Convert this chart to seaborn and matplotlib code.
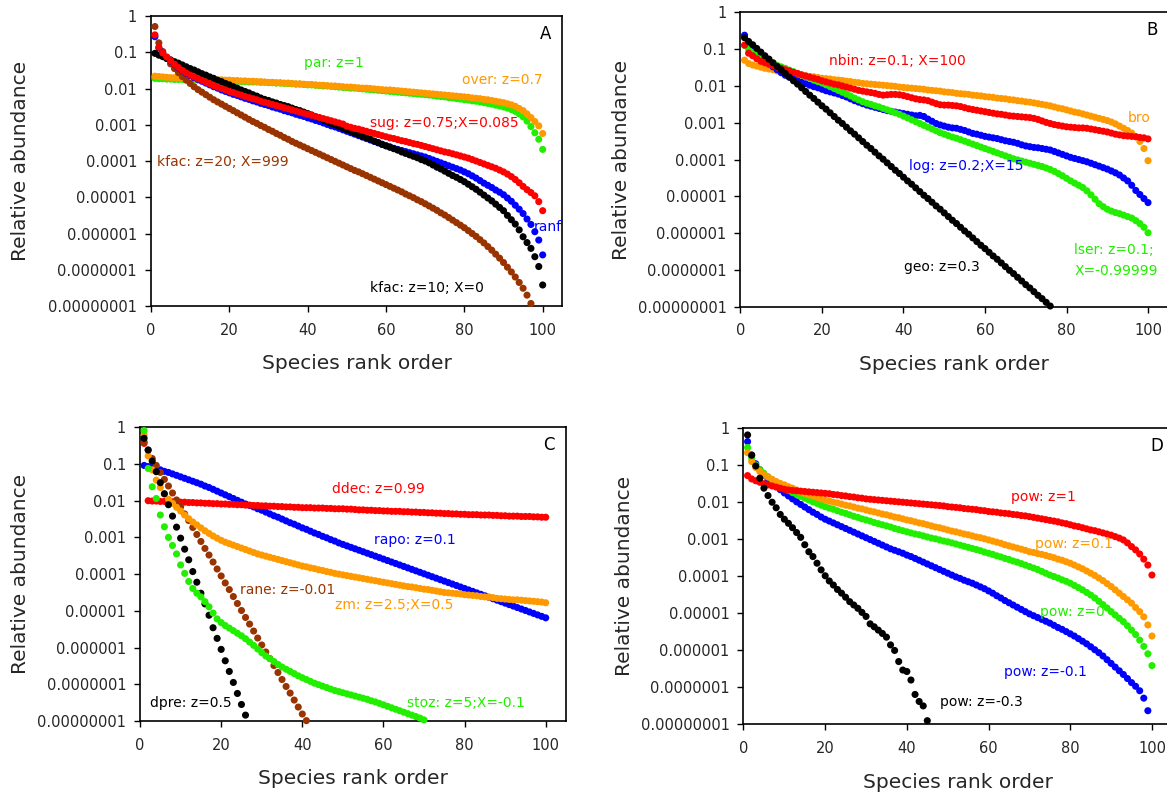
import numpy as np
import pandas as pd
import matplotlib
matplotlib.use("Agg")
import matplotlib.pyplot as plt
import seaborn as sns
from matplotlib.ticker import FixedLocator, FixedFormatter, NullLocator

# ---------------- data: log10(relative abundance) for species rank 1..n ----------------
# Panel A
A_par = [-1.72,-1.73,-1.73,-1.74,-1.74,-1.75,-1.75,-1.75,-1.76,-1.76,
         -1.76,-1.77,-1.77,-1.77,-1.78,-1.78,-1.78,-1.79,-1.79,-1.79,
         -1.80,-1.80,-1.81,-1.81,-1.82,-1.82,-1.82,-1.83,-1.83,-1.84,
         -1.84,-1.85,-1.85,-1.86,-1.86,-1.87,-1.88,-1.88,-1.89,-1.90,
         -1.90,-1.91,-1.92,-1.93,-1.93,-1.94,-1.95,-1.96,-1.97,-1.98,
         -1.99,-1.99,-2.00,-2.01,-2.02,-2.03,-2.04,-2.05,-2.06,-2.07,
         -2.08,-2.09,-2.10,-2.11,-2.12,-2.13,-2.14,-2.15,-2.16,-2.17,
         -2.18,-2.19,-2.21,-2.22,-2.23,-2.25,-2.26,-2.28,-2.29,-2.31,
         -2.32,-2.34,-2.35,-2.37,-2.39,-2.41,-2.43,-2.46,-2.48,-2.51,
         -2.54,-2.58,-2.63,-2.70,-2.78,-2.90,-3.05,-3.22,-3.40,-3.68]
A_over = [-1.66,-1.67,-1.68,-1.69,-1.70,-1.70,-1.71,-1.71,-1.72,-1.72,
          -1.73,-1.73,-1.74,-1.74,-1.75,-1.75,-1.76,-1.76,-1.77,-1.77,
          -1.78,-1.78,-1.79,-1.79,-1.80,-1.80,-1.81,-1.81,-1.82,-1.83,
          -1.83,-1.84,-1.84,-1.85,-1.85,-1.86,-1.87,-1.87,-1.88,-1.89,
          -1.89,-1.90,-1.91,-1.91,-1.92,-1.93,-1.93,-1.94,-1.95,-1.96,
          -1.96,-1.97,-1.98,-1.99,-1.99,-2.00,-2.01,-2.02,-2.03,-2.04,
          -2.04,-2.05,-2.06,-2.07,-2.08,-2.09,-2.10,-2.11,-2.12,-2.13,
          -2.14,-2.15,-2.16,-2.17,-2.18,-2.19,-2.20,-2.21,-2.22,-2.23,
          -2.24,-2.26,-2.27,-2.28,-2.30,-2.31,-2.33,-2.35,-2.37,-2.39,
          -2.42,-2.45,-2.49,-2.55,-2.61,-2.70,-2.80,-2.91,-3.03,-3.24]
A_kfac10 = [-1.03,-1.08,-1.12,-1.17,-1.21,-1.26,-1.30,-1.35,-1.40,-1.45,
            -1.49,-1.54,-1.59,-1.63,-1.68,-1.72,-1.77,-1.81,-1.86,-1.90,
            -1.95,-1.99,-2.04,-2.08,-2.12,-2.17,-2.21,-2.26,-2.30,-2.33,
            -2.37,-2.40,-2.44,-2.47,-2.50,-2.54,-2.58,-2.61,-2.65,-2.69,
            -2.73,-2.78,-2.82,-2.87,-2.91,-2.96,-3.00,-3.05,-3.09,-3.14,
            -3.18,-3.23,-3.27,-3.32,-3.36,-3.40,-3.45,-3.49,-3.54,-3.58,
            -3.62,-3.66,-3.70,-3.75,-3.79,-3.83,-3.87,-3.91,-3.96,-4.00,
            -4.05,-4.11,-4.17,-4.22,-4.28,-4.34,-4.40,-4.45,-4.51,-4.57,
            -4.64,-4.71,-4.78,-4.86,-4.94,-5.02,-5.10,-5.19,-5.28,-5.37,
            -5.50,-5.62,-5.74,-5.90,-6.09,-6.25,-6.41,-6.64,-6.91,-7.42]
A_ranf = [-0.57,-0.88,-1.03,-1.14,-1.24,-1.34,-1.43,-1.51,-1.58,-1.64,
          -1.70,-1.75,-1.80,-1.85,-1.90,-1.95,-1.99,-2.04,-2.08,-2.12,
          -2.16,-2.19,-2.23,-2.27,-2.30,-2.34,-2.37,-2.41,-2.44,-2.47,
          -2.51,-2.54,-2.57,-2.61,-2.64,-2.67,-2.71,-2.74,-2.77,-2.81,
          -2.84,-2.88,-2.91,-2.95,-2.99,-3.03,-3.06,-3.10,-3.14,-3.18,
          -3.22,-3.26,-3.30,-3.34,-3.38,-3.42,-3.46,-3.50,-3.54,-3.58,
          -3.61,-3.65,-3.68,-3.71,-3.74,-3.77,-3.80,-3.83,-3.86,-3.89,
          -3.93,-3.97,-4.01,-4.05,-4.09,-4.13,-4.17,-4.21,-4.25,-4.30,
          -4.35,-4.41,-4.47,-4.54,-4.61,-4.67,-4.73,-4.80,-4.86,-4.93,
          -5.02,-5.11,-5.22,-5.33,-5.45,-5.60,-5.75,-5.95,-6.18,-6.59]
A_sug = [-0.52,-0.86,-1.02,-1.13,-1.23,-1.33,-1.42,-1.50,-1.57,-1.63,
         -1.68,-1.73,-1.78,-1.83,-1.87,-1.92,-1.96,-2.00,-2.04,-2.08,
         -2.11,-2.15,-2.18,-2.22,-2.25,-2.28,-2.31,-2.35,-2.38,-2.41,
         -2.44,-2.47,-2.50,-2.53,-2.56,-2.59,-2.62,-2.65,-2.68,-2.71,
         -2.74,-2.77,-2.80,-2.83,-2.86,-2.89,-2.92,-2.95,-2.98,-3.04,
         -3.07,-3.10,-3.12,-3.15,-3.18,-3.21,-3.24,-3.27,-3.30,-3.33,
         -3.36,-3.38,-3.41,-3.44,-3.46,-3.49,-3.52,-3.54,-3.57,-3.60,
         -3.63,-3.66,-3.69,-3.72,-3.75,-3.77,-3.80,-3.83,-3.86,-3.89,
         -3.92,-3.96,-4.00,-4.04,-4.08,-4.12,-4.16,-4.20,-4.25,-4.30,
         -4.36,-4.43,-4.51,-4.60,-4.70,-4.79,-4.87,-4.96,-5.12,-5.37]
A_kfac20 = [-0.29,-0.74,-0.98,-1.17,-1.32,-1.45,-1.56,-1.67,-1.77,-1.86,
            -1.95,-2.03,-2.10,-2.17,-2.24,-2.31,-2.37,-2.43,-2.49,-2.55,
            -2.61,-2.67,-2.73,-2.79,-2.85,-2.91,-2.96,-3.02,-3.07,-3.13,
            -3.18,-3.24,-3.29,-3.35,-3.40,-3.46,-3.51,-3.56,-3.61,-3.66,
            -3.71,-3.76,-3.81,-3.86,-3.91,-3.96,-4.01,-4.06,-4.11,-4.16,
            -4.21,-4.26,-4.30,-4.35,-4.40,-4.45,-4.50,-4.55,-4.60,-4.65,
            -4.70,-4.75,-4.80,-4.85,-4.91,-4.96,-5.01,-5.07,-5.12,-5.18,
            -5.24,-5.30,-5.36,-5.43,-5.49,-5.56,-5.63,-5.70,-5.77,-5.84,
            -5.92,-6.00,-6.08,-6.17,-6.26,-6.36,-6.46,-6.57,-6.68,-6.80,
            -6.93,-7.06,-7.20,-7.35,-7.51,-7.70,-7.93]

# Panel B
B_geo = [-0.69,-0.79,-0.88,-0.98,-1.08,-1.18,-1.27,-1.37,-1.47,-1.56,
         -1.66,-1.76,-1.86,-1.95,-2.05,-2.15,-2.25,-2.34,-2.44,-2.54,
         -2.63,-2.73,-2.83,-2.93,-3.02,-3.12,-3.22,-3.31,-3.41,-3.51,
         -3.61,-3.70,-3.80,-3.90,-3.99,-4.09,-4.19,-4.29,-4.38,-4.48,
         -4.58,-4.67,-4.77,-4.87,-4.97,-5.06,-5.16,-5.26,-5.35,-5.45,
         -5.55,-5.65,-5.74,-5.84,-5.94,-6.03,-6.13,-6.23,-6.33,-6.42,
         -6.52,-6.62,-6.71,-6.81,-6.91,-7.01,-7.10,-7.20,-7.30,-7.40,
         -7.49,-7.59,-7.69,-7.78,-7.88,-7.98]
B_log = [-0.62,-0.82,-0.97,-1.09,-1.20,-1.30,-1.39,-1.48,-1.56,-1.64,
         -1.71,-1.76,-1.81,-1.86,-1.90,-1.94,-1.98,-2.02,-2.05,-2.09,
         -2.13,-2.16,-2.19,-2.22,-2.26,-2.30,-2.35,-2.40,-2.44,-2.48,
         -2.52,-2.55,-2.58,-2.61,-2.64,-2.67,-2.69,-2.71,-2.73,-2.75,
         -2.77,-2.79,-2.81,-2.80,-2.83,-2.90,-2.96,-3.02,-3.06,-3.09,
         -3.12,-3.14,-3.15,-3.18,-3.21,-3.25,-3.29,-3.31,-3.34,-3.37,
         -3.39,-3.41,-3.43,-3.46,-3.49,-3.51,-3.53,-3.56,-3.60,-3.63,
         -3.65,-3.67,-3.68,-3.70,-3.72,-3.74,-3.78,-3.82,-3.86,-3.90,
         -3.94,-3.97,-4.00,-4.03,-4.06,-4.10,-4.14,-4.18,-4.22,-4.26,
         -4.31,-4.36,-4.42,-4.50,-4.58,-4.70,-4.84,-4.95,-5.06,-5.17]
B_lser = [-0.90,-1.00,-1.09,-1.17,-1.24,-1.29,-1.34,-1.39,-1.44,-1.48,
          -1.52,-1.57,-1.61,-1.66,-1.70,-1.75,-1.79,-1.84,-1.88,-1.92,
          -1.97,-2.02,-2.07,-2.12,-2.17,-2.22,-2.27,-2.33,-2.38,-2.43,
          -2.47,-2.50,-2.54,-2.57,-2.61,-2.65,-2.69,-2.73,-2.77,-2.82,
          -2.87,-2.92,-2.97,-3.02,-3.07,-3.12,-3.17,-3.22,-3.27,-3.31,
          -3.35,-3.39,-3.42,-3.46,-3.50,-3.54,-3.58,-3.62,-3.66,-3.70,
          -3.74,-3.78,-3.82,-3.86,-3.90,-3.94,-3.98,-4.01,-4.04,-4.07,
          -4.10,-4.13,-4.16,-4.19,-4.23,-4.27,-4.32,-4.38,-4.44,-4.51,
          -4.58,-4.64,-4.70,-4.76,-4.85,-4.96,-5.08,-5.20,-5.28,-5.35,
          -5.40,-5.44,-5.47,-5.51,-5.55,-5.59,-5.66,-5.74,-5.84,-5.99]
B_nbin = [-0.89,-1.11,-1.18,-1.26,-1.33,-1.37,-1.41,-1.45,-1.49,-1.52,
          -1.56,-1.59,-1.63,-1.66,-1.70,-1.73,-1.76,-1.79,-1.82,-1.86,
          -1.89,-1.92,-1.95,-1.97,-2.00,-2.03,-2.06,-2.09,-2.12,-2.14,
          -2.16,-2.18,-2.20,-2.23,-2.25,-2.24,-2.23,-2.23,-2.24,-2.26,
          -2.29,-2.32,-2.35,-2.37,-2.38,-2.40,-2.44,-2.48,-2.51,-2.52,
          -2.52,-2.53,-2.54,-2.56,-2.59,-2.62,-2.64,-2.66,-2.68,-2.70,
          -2.72,-2.74,-2.76,-2.77,-2.79,-2.81,-2.82,-2.83,-2.84,-2.85,
          -2.86,-2.88,-2.91,-2.95,-2.99,-3.02,-3.05,-3.07,-3.09,-3.11,
          -3.12,-3.13,-3.14,-3.14,-3.15,-3.17,-3.19,-3.21,-3.23,-3.25,
          -3.28,-3.31,-3.33,-3.35,-3.36,-3.37,-3.38,-3.40,-3.41,-3.44]
B_bro = [-1.30,-1.39,-1.43,-1.46,-1.49,-1.52,-1.54,-1.56,-1.59,-1.61,
         -1.63,-1.65,-1.67,-1.68,-1.70,-1.72,-1.74,-1.75,-1.77,-1.79,
         -1.80,-1.81,-1.83,-1.84,-1.85,-1.87,-1.88,-1.90,-1.91,-1.93,
         -1.94,-1.95,-1.96,-1.97,-1.98,-1.99,-2.00,-2.01,-2.03,-2.04,
         -2.05,-2.06,-2.07,-2.08,-2.09,-2.11,-2.12,-2.13,-2.14,-2.16,
         -2.17,-2.18,-2.20,-2.21,-2.22,-2.23,-2.25,-2.26,-2.27,-2.29,
         -2.30,-2.31,-2.33,-2.34,-2.35,-2.37,-2.38,-2.40,-2.41,-2.43,
         -2.44,-2.46,-2.48,-2.50,-2.52,-2.54,-2.57,-2.60,-2.62,-2.65,
         -2.68,-2.71,-2.73,-2.76,-2.79,-2.82,-2.85,-2.88,-2.91,-2.94,
         -2.98,-3.03,-3.09,-3.15,-3.21,-3.28,-3.38,-3.51,-3.70,-4.03]

# Panel C
C_ddec = [-0.44,-2.00,-2.01,-2.01,-2.02,-2.02,-2.03,-2.03,-2.04,-2.04,
          -2.04,-2.05,-2.05,-2.06,-2.06,-2.07,-2.07,-2.08,-2.08,-2.09,
          -2.09,-2.10,-2.10,-2.11,-2.11,-2.12,-2.12,-2.13,-2.13,-2.14,
          -2.14,-2.15,-2.15,-2.16,-2.16,-2.17,-2.17,-2.18,-2.18,-2.19,
          -2.19,-2.19,-2.20,-2.20,-2.20,-2.21,-2.21,-2.22,-2.22,-2.22,
          -2.23,-2.23,-2.24,-2.25,-2.25,-2.26,-2.26,-2.27,-2.27,-2.28,
          -2.28,-2.29,-2.29,-2.29,-2.30,-2.30,-2.31,-2.31,-2.32,-2.32,
          -2.33,-2.33,-2.34,-2.34,-2.35,-2.35,-2.36,-2.36,-2.37,-2.37,
          -2.38,-2.38,-2.38,-2.39,-2.39,-2.39,-2.40,-2.40,-2.41,-2.41,
          -2.42,-2.42,-2.42,-2.43,-2.43,-2.43,-2.44,-2.44,-2.45,-2.45]
C_rapo = [-1.04,-1.07,-1.10,-1.13,-1.16,-1.20,-1.23,-1.27,-1.31,-1.35,
          -1.39,-1.43,-1.47,-1.51,-1.55,-1.60,-1.64,-1.69,-1.74,-1.79,
          -1.84,-1.89,-1.94,-1.99,-2.04,-2.09,-2.13,-2.17,-2.22,-2.26,
          -2.31,-2.36,-2.41,-2.45,-2.50,-2.55,-2.60,-2.64,-2.69,-2.74,
          -2.78,-2.83,-2.88,-2.92,-2.97,-3.01,-3.06,-3.10,-3.15,-3.19,
          -3.23,-3.27,-3.31,-3.35,-3.39,-3.43,-3.47,-3.51,-3.55,-3.59,
          -3.63,-3.67,-3.71,-3.75,-3.79,-3.83,-3.87,-3.91,-3.95,-3.99,
          -4.03,-4.07,-4.11,-4.15,-4.19,-4.23,-4.27,-4.31,-4.35,-4.39,
          -4.43,-4.47,-4.51,-4.55,-4.59,-4.63,-4.67,-4.71,-4.75,-4.79,
          -4.83,-4.87,-4.91,-4.95,-4.99,-5.03,-5.07,-5.11,-5.15,-5.19]
C_zm = [-0.21,-0.78,-1.16,-1.44,-1.64,-1.82,-1.96,-2.07,-2.18,-2.28,
        -2.39,-2.49,-2.58,-2.66,-2.74,-2.82,-2.89,-2.96,-3.02,-3.08,
        -3.13,-3.17,-3.21,-3.25,-3.29,-3.33,-3.37,-3.41,-3.45,-3.48,
        -3.51,-3.54,-3.57,-3.60,-3.63,-3.66,-3.69,-3.72,-3.75,-3.78,
        -3.80,-3.83,-3.85,-3.88,-3.90,-3.93,-3.95,-3.98,-4.00,-4.02,
        -4.04,-4.06,-4.08,-4.10,-4.12,-4.14,-4.16,-4.18,-4.20,-4.22,
        -4.24,-4.26,-4.28,-4.30,-4.32,-4.34,-4.35,-4.37,-4.39,-4.41,
        -4.42,-4.44,-4.46,-4.48,-4.50,-4.51,-4.52,-4.53,-4.54,-4.56,
        -4.57,-4.58,-4.59,-4.61,-4.62,-4.63,-4.64,-4.66,-4.67,-4.68,
        -4.69,-4.70,-4.70,-4.71,-4.72,-4.73,-4.74,-4.75,-4.76,-4.78]
C_rane = [-0.40,-0.62,-0.85,-1.04,-1.23,-1.42,-1.60,-1.79,-1.98,-2.17,
          -2.36,-2.54,-2.73,-2.92,-3.11,-3.30,-3.48,-3.67,-3.86,-4.05,
          -4.24,-4.42,-4.61,-4.80,-4.99,-5.18,-5.36,-5.55,-5.74,-5.93,
          -6.12,-6.30,-6.49,-6.68,-6.87,-7.06,-7.24,-7.43,-7.62,-7.81,
          -7.99]
C_dpre = [-0.30,-0.62,-0.92,-1.21,-1.51,-1.81,-2.11,-2.42,-2.72,-3.02,
          -3.32,-3.61,-3.93,-4.22,-4.52,-4.81,-5.12,-5.46,-5.75,-6.05,
          -6.36,-6.65,-6.95,-7.25,-7.55,-7.84]
C_stoz = [-0.09,-1.12,-1.62,-1.94,-2.39,-2.71,-3.00,-3.22,-3.45,-3.75,
          -3.98,-4.20,-4.39,-4.52,-4.62,-4.75,-4.89,-5.06,-5.22,-5.32,
          -5.40,-5.47,-5.54,-5.61,-5.68,-5.76,-5.85,-5.94,-6.04,-6.14,
          -6.23,-6.30,-6.38,-6.46,-6.53,-6.59,-6.65,-6.71,-6.77,-6.82,
          -6.87,-6.92,-6.97,-7.01,-7.05,-7.09,-7.13,-7.17,-7.20,-7.23,
          -7.26,-7.29,-7.32,-7.35,-7.38,-7.41,-7.45,-7.48,-7.52,-7.56,
          -7.60,-7.64,-7.68,-7.72,-7.76,-7.80,-7.84,-7.88,-7.92,-7.97]

# Panel D
D_pow_1 = [-1.28,-1.37,-1.42,-1.46,-1.50,-1.53,-1.56,-1.59,-1.62,-1.65,
           -1.67,-1.68,-1.69,-1.70,-1.71,-1.72,-1.73,-1.74,-1.75,-1.76,
           -1.77,-1.79,-1.80,-1.82,-1.83,-1.85,-1.86,-1.88,-1.89,-1.91,
           -1.92,-1.93,-1.94,-1.95,-1.96,-1.97,-1.98,-1.99,-2.00,-2.01,
           -2.02,-2.03,-2.04,-2.05,-2.06,-2.07,-2.08,-2.09,-2.10,-2.12,
           -2.13,-2.14,-2.15,-2.17,-2.18,-2.19,-2.20,-2.22,-2.23,-2.25,
           -2.26,-2.27,-2.29,-2.30,-2.31,-2.33,-2.34,-2.36,-2.37,-2.39,
           -2.41,-2.43,-2.45,-2.47,-2.49,-2.51,-2.53,-2.56,-2.58,-2.61,
           -2.64,-2.66,-2.69,-2.72,-2.75,-2.77,-2.80,-2.83,-2.86,-2.89,
           -2.93,-2.97,-3.02,-3.10,-3.20,-3.29,-3.40,-3.54,-3.70,-3.97]
D_pow_01 = [-0.66,-0.90,-1.06,-1.17,-1.26,-1.32,-1.38,-1.44,-1.49,-1.53,
            -1.58,-1.62,-1.67,-1.72,-1.76,-1.80,-1.83,-1.87,-1.91,-1.94,
            -1.97,-2.00,-2.02,-2.05,-2.08,-2.10,-2.13,-2.16,-2.18,-2.21,
            -2.24,-2.26,-2.29,-2.32,-2.34,-2.37,-2.40,-2.42,-2.45,-2.48,
            -2.50,-2.53,-2.56,-2.58,-2.61,-2.64,-2.67,-2.69,-2.72,-2.75,
            -2.78,-2.80,-2.83,-2.86,-2.88,-2.91,-2.94,-2.96,-2.99,-3.02,
            -3.05,-3.08,-3.11,-3.15,-3.18,-3.21,-3.24,-3.27,-3.30,-3.34,
            -3.36,-3.39,-3.41,-3.44,-3.47,-3.50,-3.54,-3.57,-3.61,-3.65,
            -3.70,-3.75,-3.80,-3.86,-3.92,-3.98,-4.05,-4.12,-4.20,-4.28,
            -4.37,-4.46,-4.55,-4.64,-4.73,-4.85,-4.96,-5.10,-5.32,-5.62]
D_pow_0 = [-0.52,-0.81,-0.99,-1.12,-1.22,-1.31,-1.39,-1.47,-1.55,-1.62,
           -1.68,-1.74,-1.79,-1.84,-1.89,-1.94,-1.99,-2.03,-2.08,-2.12,
           -2.16,-2.19,-2.23,-2.27,-2.30,-2.34,-2.38,-2.41,-2.45,-2.48,
           -2.51,-2.55,-2.58,-2.61,-2.64,-2.67,-2.71,-2.74,-2.77,-2.80,
           -2.83,-2.86,-2.88,-2.91,-2.94,-2.97,-2.99,-3.02,-3.05,-3.07,
           -3.10,-3.13,-3.16,-3.19,-3.22,-3.25,-3.28,-3.31,-3.35,-3.38,
           -3.41,-3.45,-3.48,-3.52,-3.55,-3.59,-3.62,-3.66,-3.70,-3.74,
           -3.78,-3.82,-3.87,-3.92,-3.97,-4.01,-4.05,-4.10,-4.14,-4.19,
           -4.25,-4.31,-4.37,-4.44,-4.51,-4.59,-4.68,-4.77,-4.86,-4.96,
           -5.05,-5.14,-5.23,-5.34,-5.46,-5.58,-5.73,-5.90,-6.10,-6.42]
D_pow_m01 = [-0.36,-0.72,-0.96,-1.12,-1.26,-1.38,-1.48,-1.57,-1.66,-1.75,
             -1.83,-1.91,-1.99,-2.06,-2.13,-2.20,-2.27,-2.33,-2.40,-2.46,
             -2.51,-2.56,-2.61,-2.66,-2.71,-2.76,-2.81,-2.86,-2.91,-2.96,
             -3.01,-3.06,-3.11,-3.16,-3.21,-3.26,-3.30,-3.34,-3.38,-3.43,
             -3.47,-3.52,-3.57,-3.62,-3.67,-3.72,-3.77,-3.82,-3.87,-3.92,
             -3.97,-4.02,-4.06,-4.11,-4.15,-4.19,-4.24,-4.29,-4.34,-4.40,
             -4.46,-4.53,-4.59,-4.66,-4.72,-4.78,-4.84,-4.90,-4.96,-5.02,
             -5.07,-5.12,-5.17,-5.22,-5.27,-5.33,-5.39,-5.44,-5.50,-5.56,
             -5.62,-5.69,-5.76,-5.83,-5.91,-5.99,-6.07,-6.16,-6.26,-6.36,
             -6.46,-6.56,-6.66,-6.77,-6.88,-6.98,-7.10,-7.30,-7.64]
D_pow_m03 = [-0.18,-0.73,-1.02,-1.35,-1.62,-1.82,-2.00,-2.15,-2.33,-2.46,
             -2.57,-2.69,-2.82,-2.95,-3.15,-3.34,-3.47,-3.65,-3.83,-3.99,
             -4.13,-4.24,-4.36,-4.46,-4.57,-4.69,-4.78,-4.87,-4.98,-5.09,
             -5.29,-5.37,-5.46,-5.55,-5.65,-5.86,-6.01,-6.31,-6.54,-6.58,
             -6.81,-7.20,-7.39,-7.51,-7.91]

# axis tick values / labels
Y_TICK_VALUES = [1, 0.1, 0.01, 0.001, 0.0001, 0.00001, 0.000001, 0.0000001, 0.00000001]
Y_TICK_LABELS = ["1", "0.1", "0.01", "0.001", "0.0001", "0.00001", "0.000001",
                 "0.0000001", "0.00000001"]
X_TICKS = [0, 20, 40, 60, 80, 100]
X_LABEL = "Species rank order"
Y_LABEL = "Relative abundance"

# series labels
A_LABELS = ["par: z=1", "over: z=0.7", "sug: z=0.75;X=0.085", "kfac: z=20; X=999", "ranf", "kfac: z=10; X=0"]
B_LABELS = ["nbin: z=0.1; X=100", "bro", "log: z=0.2;X=15", "lser: z=0.1;", "X=-0.99999", "geo: z=0.3"]
C_LABELS = ["ddec: z=0.99", "rapo: z=0.1", "rane: z=-0.01", "zm: z=2.5;X=0.5", "dpre: z=0.5", "stoz: z=5;X=-0.1"]
D_LABELS = ["pow: z=1", "pow: z=0.1", "pow: z=0", "pow: z=-0.1", "pow: z=-0.3"]

# ---------------- styling ----------------
sns.set_style("ticks")
plt.rcParams["font.family"] = ["DejaVu Sans"]

GREEN = "#22ee00"
ORANGE = "#ff9900"
RED = "#ff0000"
BLUE = "#0000ff"
BLACK = "#000000"
BROWN = "#993300"

fig = plt.figure(figsize=(11.67, 7.93), dpi=100)
axA = fig.add_axes([0.1294, 0.6141, 0.3524, 0.3657])
axB = fig.add_axes([0.6345, 0.6132, 0.3667, 0.3712])
axC = fig.add_axes([0.1200, 0.0908, 0.3650, 0.3704])
axD = fig.add_axes([0.6371, 0.0870, 0.3675, 0.3729])


def frame(logs):
    logs = np.asarray(logs, dtype=float)
    return pd.DataFrame({"rank": np.arange(1, len(logs) + 1), "abundance": 10.0 ** logs})


def draw(ax, logs, color):
    sns.scatterplot(data=frame(logs), x="rank", y="abundance", color=color, s=26,
                    linewidth=0, edgecolor="none", ax=ax, clip_on=False, legend=False, zorder=3)


def note(ax, x, logy, txt, color, **kw):
    ax.text(x, 10.0 ** logy, txt, color=color, fontsize=10, ha="left", va="center", **kw)


def style(ax, ylab_x, letter, letter_x):
    ax.set_yscale("log")
    ax.set_xlim(0, 105)
    ax.set_ylim(1e-8, 1)
    ax.yaxis.set_major_locator(FixedLocator(Y_TICK_VALUES))
    ax.yaxis.set_major_formatter(FixedFormatter(Y_TICK_LABELS))
    ax.yaxis.set_minor_locator(NullLocator())
    ax.set_xticks(X_TICKS)
    ax.tick_params(axis="both", direction="out", length=4, width=1, labelsize=10.5, color="black")
    ax.tick_params(axis="y", pad=6)
    ax.tick_params(axis="x", pad=8)
    for sp in ax.spines.values():
        sp.set_visible(True)
        sp.set_linewidth(1.2)
        sp.set_color("black")
    ax.set_xlabel(X_LABEL, fontsize=14.5)
    ax.set_ylabel(Y_LABEL, fontsize=14.5)
    ax.xaxis.set_label_coords(0.5, -0.165)
    ax.yaxis.set_label_coords(ylab_x, 0.5)
    ax.text(letter_x, 10 ** -0.49, letter, fontsize=12, ha="center", va="center", color="black")
    ax.set_facecolor("white")


# Panel A
for logs, c in [(A_par, GREEN), (A_over, ORANGE), (A_kfac20, BROWN), (A_ranf, BLUE),
                (A_kfac10, BLACK), (A_sug, RED)]:
    draw(axA, logs, c)
style(axA, -0.294, "A", 100.8)
note(axA, 39.1, -1.30, A_LABELS[0], GREEN)
note(axA, 79.3, -1.77, A_LABELS[1], ORANGE)
note(axA, 55.9, -2.94, A_LABELS[2], RED)
note(axA, 1.6, -4.04, A_LABELS[3], BROWN)
note(axA, 97.6, -5.81, A_LABELS[4], BLUE)
note(axA, 55.9, -7.49, A_LABELS[5], BLACK)

# Panel B
for logs, c in [(B_bro, ORANGE), (B_log, BLUE), (B_lser, GREEN), (B_nbin, RED), (B_geo, BLACK)]:
    draw(axB, logs, c)
style(axB, -0.256, "B", 101.0)
note(axB, 21.8, -1.32, B_LABELS[0], RED)
note(axB, 95.1, -2.88, B_LABELS[1], ORANGE)
note(axB, 41.3, -4.17, B_LABELS[2], BLUE)
note(axB, 81.9, -6.46, B_LABELS[3], GREEN)
note(axB, 81.9, -7.02, B_LABELS[4], GREEN)
note(axB, 40.2, -6.91, B_LABELS[5], BLACK)

# Panel C
for logs, c in [(C_rapo, BLUE), (C_ddec, RED), (C_rane, BROWN), (C_zm, ORANGE),
                (C_dpre, BLACK), (C_stoz, GREEN)]:
    draw(axC, logs, c)
style(axC, -0.258, "C", 100.7)
note(axC, 47.4, -1.69, C_LABELS[0], RED)
note(axC, 57.6, -3.07, C_LABELS[1], BLUE)
note(axC, 24.6, -4.43, C_LABELS[2], BROWN)
note(axC, 48.0, -4.84, C_LABELS[3], ORANGE)
note(axC, 2.5, -7.52, C_LABELS[4], BLACK)
note(axC, 65.8, -7.52, C_LABELS[5], GREEN)

# Panel D
for logs, c in [(D_pow_m01, BLUE), (D_pow_0, GREEN), (D_pow_01, ORANGE), (D_pow_1, RED), (D_pow_m03, BLACK)]:
    draw(axD, logs, c)
style(axD, -0.255, "D", 101.2)
note(axD, 65.4, -1.87, D_LABELS[0], RED)
note(axD, 71.3, -3.14, D_LABELS[1], ORANGE)
note(axD, 72.6, -4.96, D_LABELS[2], GREEN)
note(axD, 63.8, -6.59, D_LABELS[3], BLUE)
note(axD, 48.0, -7.41, D_LABELS[4], BLACK)

fig.savefig("out.png", dpi=100, facecolor="white")
